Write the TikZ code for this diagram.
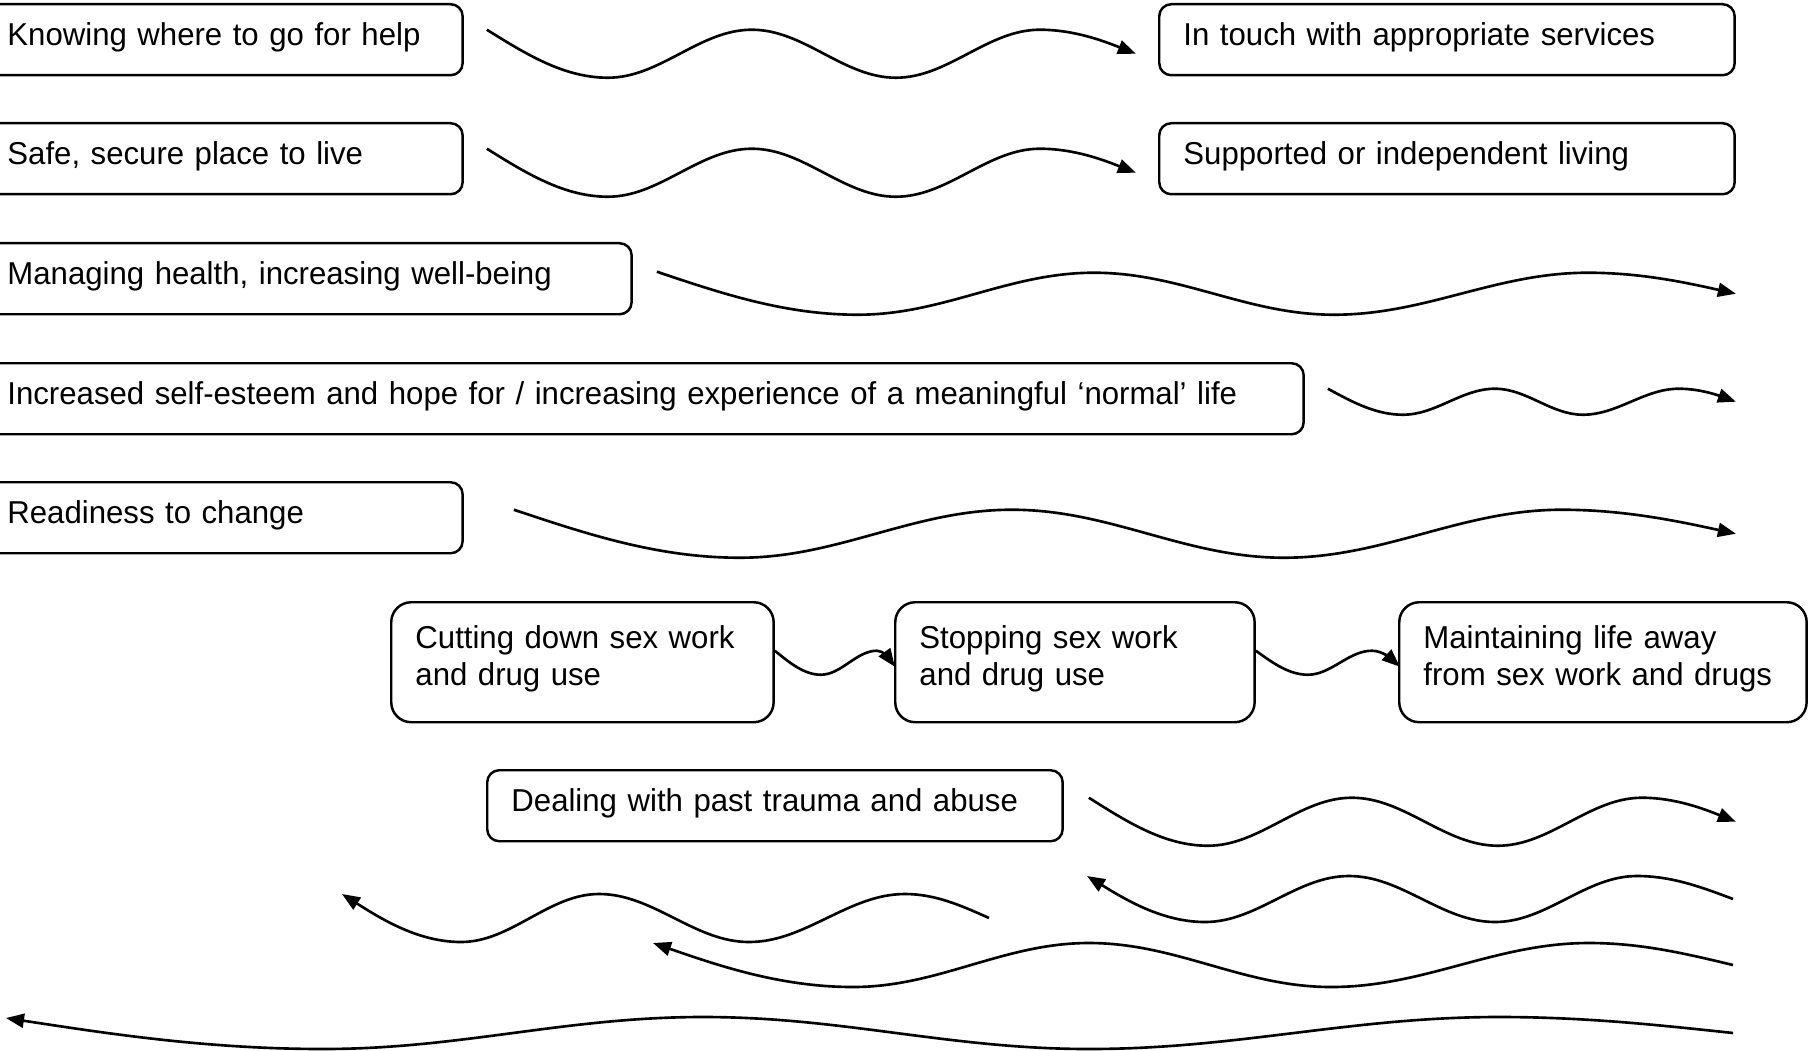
\documentclass[tikz,border=0pt]{standalone}
\usepackage{fontspec}
\setmainfont[FakeStretch=0.985]{Liberation Sans}
\usetikzlibrary{arrows.meta}

\begin{document}
\begin{tikzpicture}[
  box/.style={draw, line width=0.7pt, rounded corners=1.2mm, anchor=north west,
    align=left, inner xsep=2.42mm, inner ysep=0pt, minimum height=7.1mm,
    text depth=1.05mm, font=\fontsize{9}{10.5}\selectfont},
  tallbox/.style={box, rounded corners=2mm, minimum height=12mm, text depth=5.1mm},
  wave/.style={line width=0.75pt, -{Triangle[length=1.8mm, width=1.4mm]}}
]
  \useasboundingbox (0,0) rectangle (18.08,10.5);

  \node[box, text width=4.31cm] (help) at (-0.18,10.47) {Knowing where to go for help};
  \node[box, text width=5.27cm] (services) at (11.58,10.47) {In touch with appropriate services};
  \node[box, text width=4.31cm] (housing) at (-0.18,9.28) {Safe, secure place to live};
  \node[box, text width=5.27cm] (living) at (11.58,9.28) {Supported or independent living};
  \node[box, text width=6.00cm] (health) at (-0.18,8.08) {Managing health, increasing well-being};
  \node[box, text width=12.72cm] (esteem) at (-0.18,6.88)
    {Increased self-esteem and hope for / increasing experience of a meaningful ‘normal’ life};
  \node[box, text width=4.31cm] (ready) at (-0.18,5.69) {Readiness to change};

  \node[tallbox, text width=3.34cm] (cutdown) at (3.90,4.49) {Cutting down sex work\\and drug use};
  \node[tallbox, text width=3.11cm] (stopping) at (8.94,4.49) {Stopping sex work\\and drug use};
  \node[tallbox, text width=3.59cm] (maintain) at (13.98,4.49) {Maintaining life away\\from sex work and drugs};

  \node[box, text width=5.27cm] (trauma) at (4.86,2.81) {Dealing with past trauma and abuse};

  \draw[wave] ([shift={(0.23,0.1)}]help.east) sin ++(1.21,-0.48)
    cos ++(0.72,0.24) sin ++(0.72,0.24) cos ++(0.72,-0.24) sin ++(0.72,-0.24)
    cos ++(0.72,0.24) sin ++(0.72,0.24) cos ++(0.96,-0.24);
  \draw[wave] ([shift={(0.23,0.1)}]housing.east) sin ++(1.21,-0.48)
    cos ++(0.72,0.24) sin ++(0.72,0.24) cos ++(0.72,-0.24) sin ++(0.72,-0.24)
    cos ++(0.72,0.24) sin ++(0.72,0.24) cos ++(0.96,-0.24);
  \draw[wave] ([shift={(0.24,0.07)}]health.east) sin ++(2.01,-0.43)
    cos ++(1.18,0.21) sin ++(1.18,0.21) cos ++(1.20,-0.21) sin ++(1.20,-0.21)
    cos ++(1.27,0.21) sin ++(1.27,0.21) cos ++(1.48,-0.21);
  \draw[wave] ([shift={(0.23,0.1)}]esteem.east) sin ++(0.75,-0.26)
    cos ++(0.46,0.13) sin ++(0.46,0.13) cos ++(0.44,-0.13) sin ++(0.44,-0.13)
    cos ++(0.48,0.13) sin ++(0.48,0.13) cos ++(0.57,-0.13);
  \draw[wave] ([shift={(0.5,0.08)}]ready.east) sin ++(2.26,-0.48)
    cos ++(1.36,0.24) sin ++(1.36,0.24) cos ++(1.36,-0.24) sin ++(1.36,-0.24)
    cos ++(1.39,0.24) sin ++(1.39,0.24) cos ++(1.74,-0.24);

  \draw[wave] ([yshift=1.15mm]cutdown.east) sin ++(0.46,-0.24)
    cos ++(0.28,0.12) sin ++(0.28,0.12) cos ++(0.18,-0.16);
  \draw[wave] ([yshift=1.15mm]stopping.east) sin ++(0.52,-0.24)
    cos ++(0.32,0.12) sin ++(0.32,0.12) cos ++(0.28,-0.16);

  \draw[wave] ([shift={(0.25,0.08)}]trauma.east) sin ++(1.19,-0.48)
    cos ++(0.72,0.24) sin ++(0.72,0.24) cos ++(0.73,-0.24) sin ++(0.73,-0.24)
    cos ++(0.72,0.24) sin ++(0.72,0.24) cos ++(0.94,-0.24);

  \coordinate (back1) at (9.89,1.32);
  \coordinate (back2) at (17.33,1.51);
  \coordinate (back3) at (17.33,0.85);
  \coordinate (back4) at (17.33,0.17);

  \draw[wave] (back1) sin ++(-0.84,0.24)
    cos ++(-0.78,-0.24) sin ++(-0.78,-0.24) cos ++(-0.75,0.24) sin ++(-0.75,0.24)
    cos ++(-0.69,-0.24) sin ++(-0.69,-0.24) cos ++(-1.19,0.48);
  \draw[wave] (back2) sin ++(-0.96,0.23)
    cos ++(-0.71,-0.23) sin ++(-0.71,-0.23) cos ++(-0.73,0.23) sin ++(-0.73,0.23)
    cos ++(-0.72,-0.23) sin ++(-0.72,-0.23) cos ++(-1.18,0.46);
  \draw[wave] (back3) sin ++(-1.44,0.22)
    cos ++(-1.29,-0.22) sin ++(-1.29,-0.22) cos ++(-1.21,0.22) sin ++(-1.21,0.22)
    cos ++(-1.18,-0.22) sin ++(-1.18,-0.22) cos ++(-2.0,0.44);
  \draw[wave] (back4) sin ++(-2.34,0.16)
    cos ++(-2.05,-0.16) sin ++(-2.05,-0.16) cos ++(-1.93,0.16) sin ++(-1.93,0.16)
    cos ++(-1.90,-0.16) sin ++(-1.90,-0.16) cos ++(-3.17,0.31);
\end{tikzpicture}
\end{document}
